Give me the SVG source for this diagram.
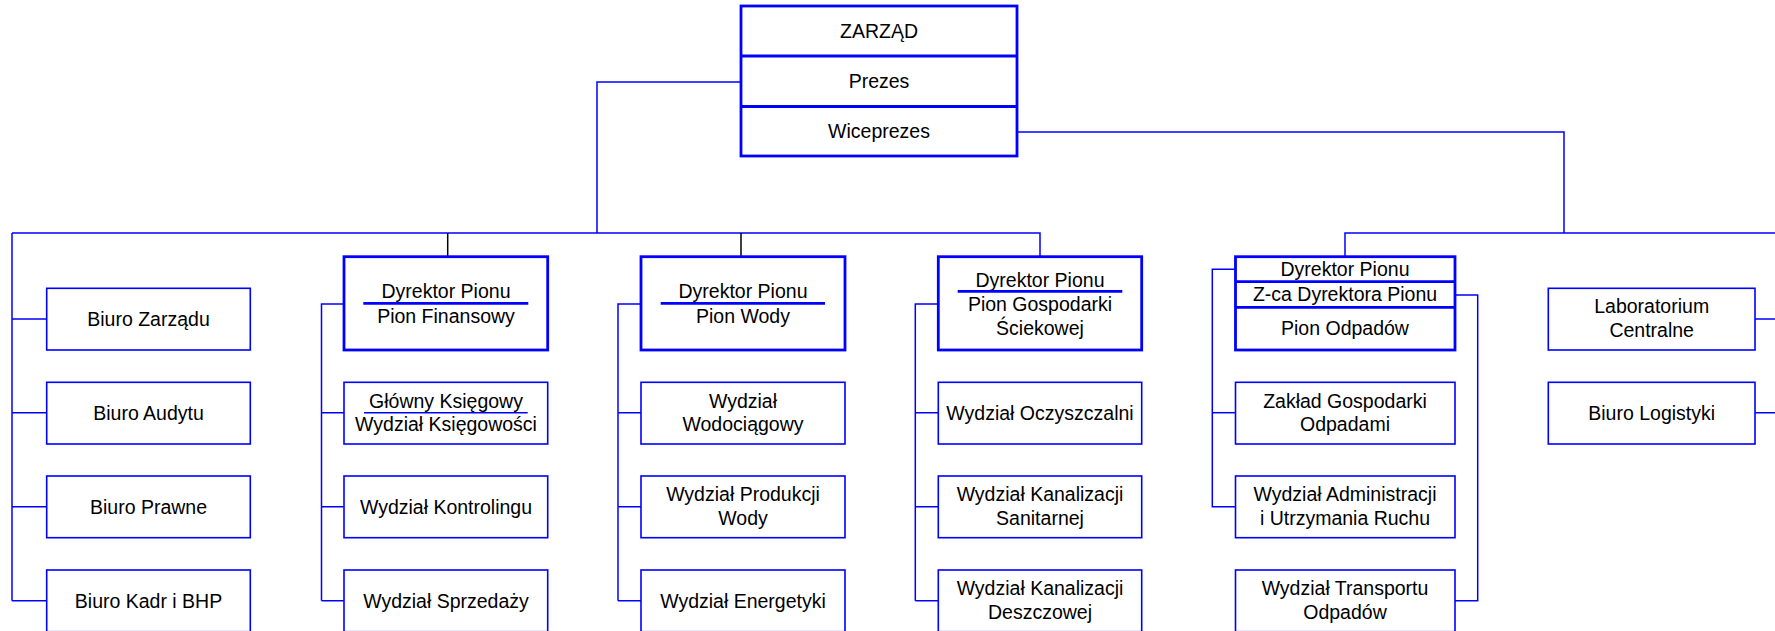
<svg xmlns="http://www.w3.org/2000/svg" width="1775" height="631" viewBox="0 0 1775 631">
<style>
  .bg { fill: #ffffff; }
  .box { fill: #ffffff; stroke: #0000ff; stroke-width: 1.6; }
  .bold { fill: #ffffff; stroke: #0000ff; stroke-width: 2.8; }
  .div { stroke: #0000ff; stroke-width: 2.8; fill: none; }
  .uline { stroke: #0000ff; stroke-width: 1.6; fill: none; }
  .con { stroke: #0000ff; stroke-width: 1.5; fill: none; }
  .blk { stroke: #000000; stroke-width: 1.5; fill: none; }
  text { font-family: "Liberation Sans", Arial, sans-serif; font-size: 19.5px; fill: #000000; text-anchor: middle; }
</style>
<rect class="bg" x="0" y="0" width="1775" height="631"/>

<g id="connectors">
  <!-- Prezes to left bus -->
  <path class="con" d="M741,82 H597 V233"/>
  <path class="con" d="M12,233 H1040 V256.7"/>
  <path class="blk" d="M447.7,233 V256.7"/>
  <path class="blk" d="M741,233 V256.7"/>
  <!-- Wiceprezes to right bus -->
  <path class="con" d="M1017,132 H1564 V233"/>
  <path class="con" d="M1345,256.7 V233 H1776"/>
  <!-- column 1 -->
  <path class="con" d="M12,233 V600.7"/>
  <path class="con" d="M12,319 H46.7 M12,412.7 H46.7 M12,506.7 H46.7 M12,600.7 H46.7"/>
  <!-- column 2 -->
  <path class="con" d="M344,304 H321.5 V600.7"/>
  <path class="con" d="M321.5,412.7 H344 M321.5,506.7 H344 M321.5,600.7 H344"/>
  <!-- column 3 -->
  <path class="con" d="M641,304 H618 V600.7"/>
  <path class="con" d="M618,412.7 H641 M618,506.7 H641 M618,600.7 H641"/>
  <!-- column 4 -->
  <path class="con" d="M938.3,304 H915.3 V600.7"/>
  <path class="con" d="M915.3,412.7 H938.3 M915.3,506.7 H938.3 M915.3,600.7 H938.3"/>
  <!-- column 5 -->
  <path class="con" d="M1235.5,269.3 H1212.3 V506.7 H1235.5"/>
  <path class="con" d="M1212.3,412.7 H1235.5"/>
  <path class="con" d="M1455,295 H1477.7 V600.7 H1455"/>
  <!-- column 6 -->
  <path class="con" d="M1755,319 H1776 M1755,412.7 H1776"/>
</g>

<g id="zarzad">
  <rect class="bold" x="741" y="6" width="276" height="150"/>
  <path class="div" d="M741,56 H1017 M741,106.5 H1017"/>
  <text x="879" y="38">ZARZĄD</text>
  <text x="879" y="88">Prezes</text>
  <text x="879" y="138">Wiceprezes</text>
</g>

<!-- column 1 -->
<g id="biuro-zarzadu"><rect class="box" x="46.7" y="288.3" width="203.6" height="61.7"/><text x="148.5" y="326">Biuro Zarządu</text></g>
<g id="biuro-audytu"><rect class="box" x="46.7" y="382.3" width="203.6" height="61.7"/><text x="148.5" y="419.7">Biuro Audytu</text></g>
<g id="biuro-prawne"><rect class="box" x="46.7" y="476" width="203.6" height="61.7"/><text x="148.5" y="513.7">Biuro Prawne</text></g>
<g id="biuro-kadr"><rect class="box" x="46.7" y="570" width="203.6" height="61.7"/><text x="148.5" y="607.7">Biuro Kadr i BHP</text></g>

<!-- column 2 -->
<g id="pion-finansowy">
  <rect class="bold" x="344" y="256.7" width="203.7" height="93.3"/>
  <text x="446" y="298">Dyrektor Pionu</text>
  <path class="div" d="M363.3,303.3 H528.3"/>
  <text x="446" y="322.5">Pion Finansowy</text>
</g>
<g id="wydzial-ksiegowosci">
  <rect class="box" x="344" y="382.3" width="203.7" height="61.7"/>
  <text x="446" y="407.7">Główny Księgowy</text>
  <path class="uline" d="M364,412.7 H527.7"/>
  <text x="446" y="431">Wydział Księgowości</text>
</g>
<g id="wydzial-kontrolingu"><rect class="box" x="344" y="476" width="203.7" height="61.7"/><text x="446" y="513.7">Wydział Kontrolingu</text></g>
<g id="wydzial-sprzedazy"><rect class="box" x="344" y="570" width="203.7" height="61.7"/><text x="446" y="607.7">Wydział Sprzedaży</text></g>

<!-- column 3 -->
<g id="pion-wody">
  <rect class="bold" x="641" y="256.7" width="204" height="93.3"/>
  <text x="743" y="298">Dyrektor Pionu</text>
  <path class="div" d="M660.7,303.3 H825"/>
  <text x="743" y="322.5">Pion Wody</text>
</g>
<g id="wydzial-wodociagowy"><rect class="box" x="641" y="382.3" width="204" height="61.7"/><text x="743" y="407.7">Wydział</text><text x="743" y="431">Wodociągowy</text></g>
<g id="wydzial-produkcji-wody"><rect class="box" x="641" y="476" width="204" height="61.7"/><text x="743" y="501.3">Wydział Produkcji</text><text x="743" y="524.7">Wody</text></g>
<g id="wydzial-energetyki"><rect class="box" x="641" y="570" width="204" height="61.7"/><text x="743" y="607.7">Wydział Energetyki</text></g>

<!-- column 4 -->
<g id="pion-sciekowy">
  <rect class="bold" x="938.3" y="256.7" width="203.4" height="93.3"/>
  <text x="1040" y="286.5">Dyrektor Pionu</text>
  <path class="div" d="M957.7,291.3 H1122.3"/>
  <text x="1040" y="311">Pion Gospodarki</text>
  <text x="1040" y="335">Ściekowej</text>
</g>
<g id="wydzial-oczyszczalni"><rect class="box" x="938.3" y="382.3" width="203.4" height="61.7"/><text x="1040" y="419.7">Wydział Oczyszczalni</text></g>
<g id="wydzial-kanalizacji-sanitarnej"><rect class="box" x="938.3" y="476" width="203.4" height="61.7"/><text x="1040" y="501.3">Wydział Kanalizacji</text><text x="1040" y="524.7">Sanitarnej</text></g>
<g id="wydzial-kanalizacji-deszczowej"><rect class="box" x="938.3" y="570" width="203.4" height="61.7"/><text x="1040" y="595.3">Wydział Kanalizacji</text><text x="1040" y="618.7">Deszczowej</text></g>

<!-- column 5 -->
<g id="pion-odpadow">
  <rect class="bold" x="1235.5" y="256.7" width="219.5" height="93.3"/>
  <path class="div" d="M1235.5,281.7 H1455 M1235.5,307.3 H1455"/>
  <text x="1345" y="275.5">Dyrektor Pionu</text>
  <text x="1345" y="301">Z-ca Dyrektora Pionu</text>
  <text x="1345" y="335">Pion Odpadów</text>
</g>
<g id="zaklad-gospodarki-odpadami"><rect class="box" x="1235.5" y="382.3" width="219.5" height="61.7"/><text x="1345" y="407.7">Zakład Gospodarki</text><text x="1345" y="431">Odpadami</text></g>
<g id="wydzial-administracji"><rect class="box" x="1235.5" y="476" width="219.5" height="61.7"/><text x="1345" y="501.3">Wydział Administracji</text><text x="1345" y="524.7">i Utrzymania Ruchu</text></g>
<g id="wydzial-transportu"><rect class="box" x="1235.5" y="570" width="219.5" height="61.7"/><text x="1345" y="595.3">Wydział Transportu</text><text x="1345" y="618.7">Odpadów</text></g>

<!-- column 6 -->
<g id="laboratorium"><rect class="box" x="1548.3" y="288.3" width="206.7" height="61.7"/><text x="1651.7" y="313.3">Laboratorium</text><text x="1651.7" y="337.3">Centralne</text></g>
<g id="biuro-logistyki"><rect class="box" x="1548.3" y="382.3" width="206.7" height="61.7"/><text x="1651.7" y="419.7">Biuro Logistyki</text></g>
</svg>
